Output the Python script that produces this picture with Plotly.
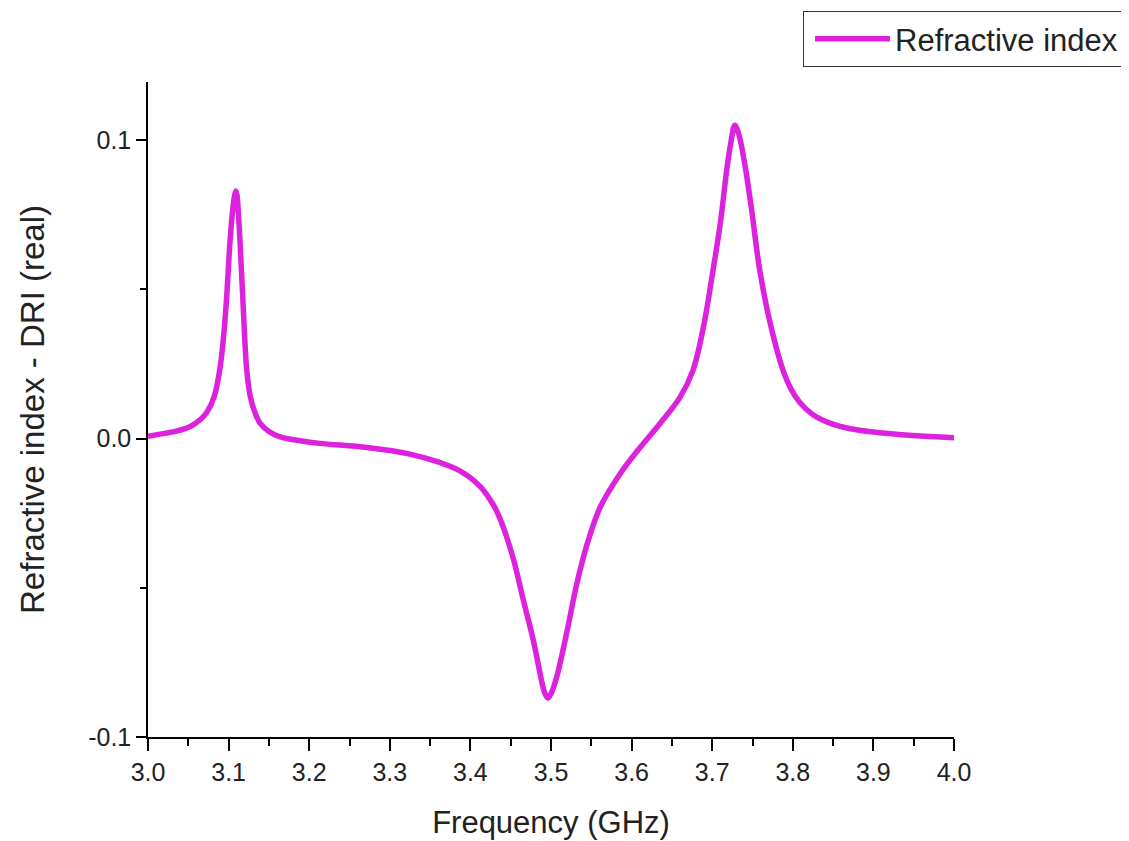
import plotly.graph_objects as go

# Frequency (GHz) and refractive index - DRI (real)
freq = [3.000, 3.015, 3.035, 3.052, 3.065, 3.073, 3.082, 3.089, 3.093, 3.097,
        3.102, 3.106, 3.1075, 3.109, 3.1105, 3.112, 3.114, 3.118, 3.1225, 3.127,
        3.133, 3.139, 3.150, 3.164, 3.189, 3.213, 3.272, 3.325, 3.362, 3.387,
        3.412, 3.428, 3.437, 3.453, 3.465, 3.478, 3.489, 3.492, 3.496, 3.500,
        3.507, 3.520, 3.532, 3.545, 3.561, 3.586, 3.609, 3.635, 3.660, 3.676,
        3.689, 3.701, 3.710, 3.718, 3.723, 3.728, 3.733, 3.741, 3.749, 3.759,
        3.772, 3.788, 3.798, 3.809, 3.825, 3.846, 3.870, 3.900, 3.949, 4.000]
dri = [0.0008, 0.0015, 0.0025, 0.0040, 0.0064, 0.0088, 0.0140, 0.0230, 0.0320, 0.0450,
       0.0670, 0.0790, 0.0815, 0.0830, 0.0815, 0.0760, 0.0670, 0.0450, 0.0230, 0.0140,
       0.0085, 0.0052, 0.0024, 0.0006, -0.0007, -0.0016, -0.0030, -0.0052, -0.0080, -0.0108,
       -0.0160, -0.0220, -0.0270, -0.0400, -0.0534, -0.0675, -0.0820, -0.0850, -0.0869, -0.0855,
       -0.0800, -0.0644, -0.0487, -0.0352, -0.0230, -0.0117, -0.0035, 0.0050, 0.0138, 0.0228,
       0.0372, 0.0564, 0.0720, 0.0900, 0.0990, 0.1050, 0.1020, 0.0910, 0.0765, 0.0564,
       0.0386, 0.0228, 0.0165, 0.0120, 0.0080, 0.0052, 0.0034, 0.0022, 0.0010, 0.0003]

x_tickvals = [3.0, 3.1, 3.2, 3.3, 3.4, 3.5, 3.6, 3.7, 3.8, 3.9, 4.0]
x_ticktext = ["3.0", "3.1", "3.2", "3.3", "3.4", "3.5", "3.6", "3.7", "3.8", "3.9", "4.0"]
y_tickvals = [-0.1, 0.0, 0.1]
y_ticktext = ["-0.1", "0.0", "0.1"]

FONT = "Liberation Sans, Arial, sans-serif"
LINE_COLOR = "#DD22DD"
TEXT_COLOR = "#222222"

fig = go.Figure()
fig.add_trace(go.Scatter(
    x=freq, y=dri, mode="lines", name="Refractive index",
    line=dict(color=LINE_COLOR, width=5.5, shape="spline", smoothing=1.0),
))

fig.update_layout(
    width=1129, height=841,
    paper_bgcolor="white", plot_bgcolor="white",
    margin=dict(l=140, r=183, t=74, b=112, autoexpand=False),
    font=dict(family=FONT, color=TEXT_COLOR),
    showlegend=True,
    legend=dict(
        x=0.8127, y=1.1084, xanchor="left", yanchor="top",
        bordercolor="#333333", borderwidth=1, bgcolor="white",
        font=dict(size=31, family=FONT, color=TEXT_COLOR),
        itemwidth=75, tracegroupgap=0, indentation=6,
    ),
)

fig.update_xaxes(
    range=[3.0, 4.0], showgrid=False, zeroline=False,
    showline=True, linecolor="black", linewidth=1.5,
    tickmode="array", tickvals=x_tickvals, ticktext=x_ticktext,
    ticks="outside", ticklen=12, tickwidth=1.5, tickcolor="black",
    tickfont=dict(size=25, family=FONT, color=TEXT_COLOR),
    minor=dict(dtick=0.05, tick0=3.0, ticks="outside", ticklen=7, tickwidth=1.5, tickcolor="black"),
    title=dict(text="Frequency (GHz)", font=dict(size=31, family=FONT, color=TEXT_COLOR), standoff=27),
)
fig.update_yaxes(
    range=[-0.1, 0.1195], showgrid=False, zeroline=False,
    showline=True, linecolor="black", linewidth=1.5,
    tickmode="array", tickvals=y_tickvals, ticktext=y_ticktext,
    ticks="outside", ticklen=10, tickwidth=1.5, tickcolor="black",
    tickfont=dict(size=25, family=FONT, color=TEXT_COLOR),
    minor=dict(dtick=0.05, tick0=0.0, ticks="outside", ticklen=6, tickwidth=1.5, tickcolor="black"),
    title=dict(text="Refractive index - DRI (real)", font=dict(size=33, family=FONT, color=TEXT_COLOR), standoff=34),
)

fig.write_html("out.html")
